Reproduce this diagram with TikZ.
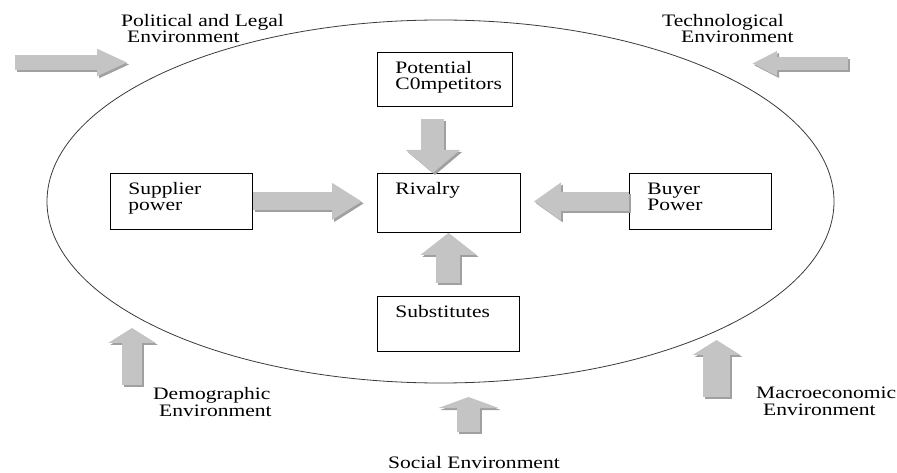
\documentclass[tikz,border=0pt]{standalone}
\usepackage{fontspec}
\setmainfont{Liberation Serif}[FakeStretch=1.23]
\usetikzlibrary{shapes.geometric,arrows.meta}
\definecolor{arrowfill}{HTML}{C4C4C4}
\definecolor{arrowshade}{HTML}{A0A0A0}
\definecolor{ringline}{HTML}{3A3A3A}
\tikzset{
  box/.style={draw, line width=0.9bp, anchor=north west, align=left, inner xsep=18bp, inner ysep=0pt, text width=#1, text height=21bp},
  lbl/.style={anchor=base west, align=left, inner sep=0pt},
  fatarrow/.style n args={3}{draw=arrowfill, line width=#1, -{Triangle[width=#2,length=#3]},
    preaction={draw=arrowshade, line width=#1, -{Triangle[width=#2,length=#3]}, transform canvas={shift={(2bp,-2bp)}}}}
}
\begin{document}
\begin{tikzpicture}[x=1bp, y=-1bp, font=\fontsize{17.5bp}{16.5bp}\selectfont]
\useasboundingbox (0,0) rectangle (897,473);
% the environment ring
\node[draw=ringline, ellipse, line width=0.8bp, minimum width=787bp, minimum height=363bp, inner sep=0pt] (env) at (440.5,201.5) {};

% five forces
\node[box=99bp, text depth=33bp] (pc) at (377,52) {Potential\\C0mpetitors};
\node[box=107bp, text depth=38bp] (riv) at (377,173) {Rivalry};
\node[box=106bp, text depth=35bp] (sup) at (110,173) {Supplier\\power};
\node[box=106bp, text depth=35bp] (buy) at (629,173) {Buyer\\Power};
\node[box=106bp, text depth=34bp] (sub) at (377,296) {Substitutes};

\draw[fatarrow={23bp}{53bp}{23bp}, shorten <=12bp] ([xshift=-12bp]pc.south) -- ([xshift=-12bp]pc.south |- riv.north);
\draw[fatarrow={18bp}{35bp}{30bp}, shorten >=15bp] (sup.east) -- (sup.east -| riv.west);
\draw[fatarrow={19bp}{36bp}{27bp}, shorten >=13bp] (buy.west) -- (buy.west -| riv.east);
\draw[fatarrow={24bp}{55bp}{22bp}, shorten <=13bp] (sub.north) -- (sub.north |- riv.south);

% outside environments (base = last line)
\node[lbl] (pol) at (121,43) {Political and Legal\\\hspace{6bp}Environment};
\node[lbl] (tec) at (662,43) {Technological\\\hspace{19bp}Environment};
\node[lbl] (dem) at (153,416) {Demographic\\\hspace{6bp}Environment};
\node[lbl] (mac) at (756,415) {Macroeconomic\\\hspace{7bp}Environment};
\node[lbl] (soc) at (388,468) {Social Environment};

\coordinate (pol-a) at (15,62.5);
\coordinate (pol-b) at (128,62.5);
\coordinate (tec-a) at (848,63.5);
\coordinate (tec-b) at (752,63.5);
\coordinate (dem-a) at (132,385);
\coordinate (dem-b) at (132,328);
\coordinate (soc-a) at (468.5,432);
\coordinate (soc-b) at (468.5,397);
\coordinate (mac-a) at (716.5,397);
\coordinate (mac-b) at (716.5,340);

\draw[fatarrow={15bp}{25bp}{31bp}] (pol-a) -- (pol-b);
\draw[fatarrow={13bp}{23bp}{25bp}] (tec-a) -- (tec-b);
\draw[fatarrow={20bp}{47bp}{15bp}] (dem-a) -- (dem-b);
\draw[fatarrow={23bp}{60bp}{11bp}] (soc-a) -- (soc-b);
\draw[fatarrow={27bp}{47bp}{15bp}] (mac-a) -- (mac-b);
\end{tikzpicture}
\end{document}
